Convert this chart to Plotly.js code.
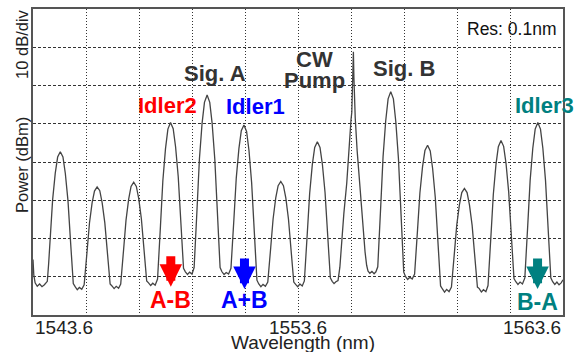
<!DOCTYPE html>
<html>
<head>
<meta charset="utf-8">
<script src="https://cdn.plot.ly/plotly-3.0.1.min.js"></script>
<style>
html,body{margin:0;padding:0;background:#fff;}
#chart{width:576px;height:352px;}
</style>
</head>
<body>
<div id="chart"></div>
<script>
const wavelength = [
1543.60,1543.63,1543.68,1543.76,1543.85,1543.94,1544.03,
1544.14,1544.19,1544.25,1544.34,1544.44,1544.53,1544.63,1544.73,1544.82,1544.92,1545.01,1545.07,1545.12,
1545.19,1545.27,1545.35,1545.44,
1545.53,1545.58,1545.64,1545.73,1545.83,1545.92,1546.02,1546.12,1546.21,1546.31,1546.40,1546.46,1546.51,
1546.58,1546.66,1546.74,1546.83,
1546.91,1546.96,1547.02,1547.11,1547.21,1547.30,1547.40,1547.50,1547.59,1547.69,1547.78,1547.84,1547.89,
1547.96,1548.04,1548.12,1548.21,
1548.30,1548.35,1548.41,1548.50,1548.60,1548.69,1548.79,1548.89,1548.98,1549.08,1549.17,1549.23,1549.28,
1549.35,1549.43,1549.51,1549.60,
1549.68,1549.73,1549.79,1549.88,1549.98,1550.07,1550.17,1550.27,1550.36,1550.46,1550.55,1550.61,1550.66,
1550.73,1550.81,1550.89,1550.98,
1551.07,1551.12,1551.18,1551.27,1551.37,1551.46,1551.56,1551.66,1551.75,1551.85,1551.94,1552.00,1552.05,
1552.12,1552.20,1552.28,1552.37,
1552.46,1552.51,1552.57,1552.66,1552.76,1552.85,1552.95,1553.05,1553.14,1553.24,1553.33,1553.39,1553.44,
1553.51,1553.59,1553.67,1553.76,
1553.84,1553.89,1553.95,1554.04,1554.14,1554.23,1554.33,1554.43,1554.52,1554.62,1554.71,1554.77,1554.82,
1554.89,1554.96,1555.03,
1555.11,1555.18,1555.25,1555.33,1555.44,1555.51,1555.56,1555.60,1555.63,1555.66,1555.69,1555.71,1555.73,1555.76,1555.83,1555.94,1556.05,1556.13,1556.19,1556.24,
1556.31,1556.39,1556.47,1556.54,
1556.61,1556.66,1556.72,1556.81,1556.91,1557.00,1557.10,1557.20,1557.29,1557.39,1557.48,1557.54,1557.59,
1557.66,1557.74,1557.82,1557.91,
1558.00,1558.05,1558.11,1558.20,1558.30,1558.39,1558.49,1558.59,1558.68,1558.78,1558.87,1558.93,1558.98,
1559.05,1559.13,1559.21,1559.30,
1559.39,1559.44,1559.50,1559.59,1559.69,1559.78,1559.88,1559.98,1560.07,1560.17,1560.26,1560.32,1560.37,
1560.44,1560.52,1560.60,1560.69,
1560.77,1560.82,1560.88,1560.97,1561.07,1561.16,1561.26,1561.36,1561.45,1561.55,1561.64,1561.70,1561.75,
1561.82,1561.90,1561.98,1562.07,
1562.16,1562.21,1562.27,1562.36,1562.46,1562.55,1562.65,1562.75,1562.84,1562.94,1563.03,1563.09,1563.14,
1563.21,1563.29,1563.37,1563.45,1563.53,1563.60
];
const power = [
-55.5,-59.5,-61.6,-62.5,-61.9,-62.6,-62.1,
-61.2,-56.6,-49.6,-39.9,-32.9,-28.7,-27.3,-28.7,-33.0,-40.1,-50.1,-57.2,-61.8,
-62.6,-63.4,-62.8,-63.3,
-62.1,-58.7,-53.4,-46.0,-40.7,-37.6,-36.5,-37.5,-40.7,-45.9,-53.3,-58.5,-61.9,
-62.4,-63.1,-62.5,-63.0,
-61.9,-58.3,-52.8,-45.2,-39.7,-36.4,-35.3,-36.4,-39.6,-44.9,-52.3,-57.6,-61.1,
-61.6,-62.3,-61.7,-62.2,
-60.6,-55.1,-46.7,-34.9,-26.5,-21.4,-19.7,-21.3,-26.0,-33.8,-44.9,-52.7,-57.8,
-58.7,-59.4,-58.8,-59.3,
-57.6,-51.6,-42.3,-29.2,-19.9,-14.4,-12.5,-14.4,-19.9,-29.2,-42.3,-51.6,-57.6,
-58.7,-59.4,-58.9,-59.3,
-57.8,-52.8,-45.1,-34.2,-26.5,-21.8,-20.3,-22.0,-27.0,-35.4,-47.1,-55.5,-60.9,
-61.9,-62.6,-62.0,-62.5,
-61.4,-57.9,-52.4,-44.9,-39.4,-36.2,-35.1,-36.2,-39.4,-44.9,-52.4,-57.9,-61.4,
-62.0,-62.6,-61.9,-62.4,
-61.1,-56.2,-48.7,-38.2,-30.7,-26.2,-24.7,-26.2,-30.6,-37.9,-48.2,-55.5,-60.3,
-61.2,-61.8,-61.3,
-61.0,-57.5,-50.4,-43.5,-35.5,-27.5,-20.5,-19.0,-17.0,-10.0,-1.2,-8.0,-15.5,-18.5,-26.9,-37.3,-47.0,-53.5,-57.0,-58.5,
-59.1,-58.6,-59.2,-58.7,
-57.4,-51.2,-41.8,-28.6,-19.2,-13.5,-11.6,-13.5,-19.4,-29.1,-42.8,-52.5,-58.8,
-60.0,-60.7,-60.1,-60.6,
-59.3,-54.7,-47.8,-38.1,-31.2,-27.0,-25.6,-27.1,-31.7,-39.2,-49.9,-57.4,-62.4,
-63.2,-64.0,-63.3,-63.9,
-62.7,-59.2,-53.9,-46.5,-41.2,-38.0,-36.9,-38.0,-41.2,-46.5,-53.9,-59.2,-62.7,
-63.1,-64.0,-63.4,-63.9,
-62.3,-57.2,-49.4,-38.5,-30.7,-26.0,-24.4,-25.9,-30.4,-37.8,-48.2,-55.6,-60.5,
-61.3,-62.0,-61.4,-61.9,
-60.3,-54.9,-46.5,-34.8,-26.4,-21.4,-19.7,-21.4,-26.4,-34.8,-46.5,-54.9,-60.3,
-61.3,-62.0,-61.4,-62.1,-61.6,-60.8
];

// Axis tick labels
const tickValues = [1543.6, 1553.6, 1563.6];
const tickLabels = ['1543.6', '1553.6', '1563.6'];

// Peak labels
const peakLabels = ['Sig. A', 'CW', 'Pump', 'Sig. B', 'Idler2', 'Idler1', 'Idler3'];
const peakLabelX = [1550.47, 1554.24, 1554.24, 1557.60, 1548.68, 1551.98, 1562.90];
const peakLabelY = [-6.9, -3.2, -8.7, -5.6, -15.1, -15.5, -15.1];
const peakLabelColors = ['#333333', '#333333', '#333333', '#333333', '#ff0000', '#0000ff', '#008080'];

// Mixing products (arrows)
const productLabels = ['A-B', 'A+B', 'B-A'];
const productWavelength = [1548.80, 1551.58, 1562.64];
const productArrowTip = [-62.6, -63.2, -63.2];
const productLabelY = [-66.2, -66.2, -66.7];
const productColors = ['#ff0000', '#0000ff', '#008080'];

const FONT = "'Liberation Sans', Arial, Helvetica, sans-serif";

const annotations = [];
tickLabels.forEach((t, i) => {
  annotations.push({
    x: tickValues[i], xref: 'x', y: 0, yref: 'paper', yshift: -12,
    text: t, showarrow: false, yanchor: 'middle',
    xanchor: i === 0 ? 'left' : (i === tickLabels.length - 1 ? 'right' : 'center'),
    font: {family: FONT, size: 19, color: '#222'}
  });
});
annotations.push({
  x: 0.509, xref: 'paper', y: 0, yref: 'paper', yshift: -27,
  text: 'Wavelength (nm)', showarrow: false, xanchor: 'center', yanchor: 'middle',
  font: {family: FONT, size: 19, color: '#222'}
});
annotations.push({
  x: -0.0208, xref: 'paper', y: 0.8856, yref: 'paper',
  text: '10 dB/div', showarrow: false, textangle: -90, xanchor: 'center', yanchor: 'middle',
  font: {family: FONT, size: 16.5, color: '#222'}
});
annotations.push({
  x: -0.0208, xref: 'paper', y: 0.490, yref: 'paper',
  text: 'Power (dBm)', showarrow: false, textangle: -90, xanchor: 'center', yanchor: 'middle',
  font: {family: FONT, size: 16.5, color: '#222'}
});
annotations.push({
  x: 1563.41, xref: 'x', y: 4.9, yref: 'y',
  text: 'Res: 0.1nm', showarrow: false, xanchor: 'right', yanchor: 'middle',
  font: {family: FONT, size: 17.5, color: '#111'}
});
peakLabels.forEach((t, i) => {
  annotations.push({
    x: peakLabelX[i], y: peakLabelY[i], xref: 'x', yref: 'y',
    text: '<b>' + t + '</b>', showarrow: false, xanchor: 'center', yanchor: 'middle',
    font: {family: FONT, size: 22, color: peakLabelColors[i]}
  });
});
productLabels.forEach((t, i) => {
  annotations.push({
    x: productWavelength[i], y: productArrowTip[i], xref: 'x', yref: 'y',
    text: '', showarrow: true, ax: 0, ay: -32, axref: 'pixel', ayref: 'pixel',
    arrowhead: 2, arrowsize: 0.5, arrowwidth: 9, arrowcolor: productColors[i], standoff: 0
  });
  annotations.push({
    x: productWavelength[i], y: productLabelY[i], xref: 'x', yref: 'y',
    text: '<b>' + t + '</b>', showarrow: false, xanchor: 'center', yanchor: 'middle',
    font: {family: FONT, size: 23, color: productColors[i]}
  });
});

const trace = {
  x: wavelength, y: power, type: 'scatter', mode: 'lines',
  line: {color: '#444444', width: 1.3},
  hoverinfo: 'skip'
};

const layout = {
  width: 576, height: 352,
  margin: {l: 33, r: 13, t: 9, b: 37, pad: 0},
  paper_bgcolor: '#ffffff', plot_bgcolor: '#ffffff',
  showlegend: false,
  xaxis: {
    range: [1543.6, 1563.6], tick0: 1543.6, dtick: 2, showticklabels: false, ticks: '',
    showgrid: true, gridcolor: '#333333', gridwidth: 1, griddash: '1px,2px',
    zeroline: false, showline: true, linecolor: '#555555', linewidth: 2, mirror: true
  },
  yaxis: {
    range: [-70, 10], tick0: -70, dtick: 10, showticklabels: false, ticks: '',
    showgrid: true, gridcolor: '#333333', gridwidth: 1, griddash: '3px,2px',
    zeroline: false, showline: true, linecolor: '#555555', linewidth: 2, mirror: true
  },
  annotations: annotations
};

Plotly.newPlot('chart', [trace], layout, {displayModeBar: false, staticPlot: true});
</script>
</body>
</html>
